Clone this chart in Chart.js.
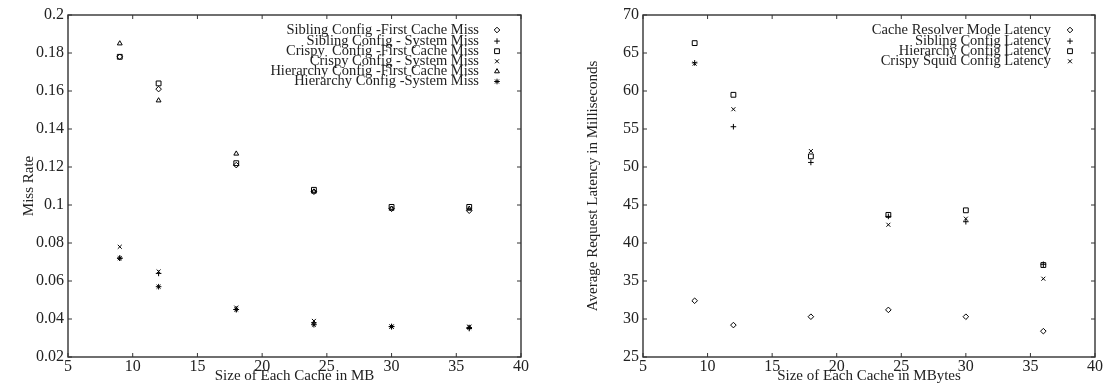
<!DOCTYPE html>
<html>
<head>
<meta charset="utf-8">
<script src="https://cdn.jsdelivr.net/npm/chart.js@4"></script>
<style>
	body { margin: 0; background: #fff; }
	#left { position: absolute; left: 0; top: 0; }
	#right { position: absolute; left: 560px; top: 0; }
</style>
</head>
<body>
<canvas id="left" width="552" height="387"></canvas>
<canvas id="right" width="545" height="387"></canvas>
<script>
// cache size in MB (x values, same for both plots)
const sizesMB = [9, 12, 18, 24, 30, 36];

// left plot: miss rate
const siblingFirstMiss = [0.178, 0.161, 0.121, 0.107, 0.098, 0.097];
const siblingSystemMiss = [0.072, 0.064, 0.045, 0.038, 0.036, 0.035];
const crispyFirstMiss = [0.178, 0.164, 0.122, 0.108, 0.099, 0.099];
const crispySystemMiss = [0.078, 0.065, 0.046, 0.039, 0.036, 0.036];
const hierarchyFirstMiss = [0.185, 0.155, 0.127, 0.107, 0.098, 0.098];
const hierarchySystemMiss = [0.072, 0.057, 0.045, 0.037, 0.036, 0.0355];

// right plot: latency in ms
const resolverLatency = [32.4, 29.2, 30.3, 31.2, 30.3, 28.4];
const siblingLatency = [63.7, 55.3, 50.6, 43.5, 42.8, 37.2];
const hierarchyLatency = [66.3, 59.5, 51.4, 43.7, 44.3, 37.1];
const crispyLatency = [63.6, 57.6, 52.1, 42.4, 43.2, 35.3];

// tick labels
const xTicks = [5, 10, 15, 20, 25, 30, 35, 40];
const missTicks = [0.02, 0.04, 0.06, 0.08, 0.1, 0.12, 0.14, 0.16, 0.18, 0.2];
const latencyTicks = [25, 30, 35, 40, 45, 50, 55, 60, 65, 70];

const FONT = "'Liberation Serif', 'DejaVu Serif', serif";
const INK = '#222';

function pts(ys) {
	return ys.map((y, i) => ({ x: sizesMB[i], y: y }));
}

function ds(label, ys, style, r) {
	return {
		label: label,
		data: pts(ys),
		pointStyle: style,
		pointRadius: r || 2.8,
		pointBorderWidth: 1,
		borderColor: '#000',
		backgroundColor: 'rgba(0,0,0,0)',
		showLine: false
	};
}

// box + inward ticks on all sides, gnuplot style
const framePlugin = {
	id: 'frame',
	afterDraw(chart) {
		const { ctx, chartArea: a, scales: { x, y } } = chart;
		ctx.save();
		ctx.strokeStyle = '#333';
		ctx.lineWidth = 1.4;
		ctx.strokeRect(a.left, a.top, a.right - a.left, a.bottom - a.top);
		ctx.lineWidth = 1;
		ctx.beginPath();
		x.ticks.forEach(t => {
			const px = x.getPixelForValue(t.value);
			ctx.moveTo(px, a.bottom); ctx.lineTo(px, a.bottom - 4);
			ctx.moveTo(px, a.top); ctx.lineTo(px, a.top + 4);
		});
		y.ticks.forEach(t => {
			const py = y.getPixelForValue(t.value);
			ctx.moveTo(a.left, py); ctx.lineTo(a.left + 4, py);
			ctx.moveTo(a.right, py); ctx.lineTo(a.right - 4, py);
		});
		ctx.stroke();
		ctx.restore();
	}
};

// legend: text right aligned, marker on its right
const keyPlugin = {
	id: 'key',
	afterDraw(chart, args, opts) {
		const { ctx, chartArea: a } = chart;
		ctx.save();
		ctx.font = '14.5px ' + FONT;
		ctx.textAlign = 'right';
		ctx.textBaseline = 'middle';
		chart.data.datasets.forEach((d, i) => {
			const yy = a.top + opts.top + i * opts.step + (i > 0 ? 1 : 0);
			ctx.fillStyle = INK;
			ctx.fillText(d.label, a.right - opts.textGap, yy);
			ctx.strokeStyle = '#000';
			ctx.fillStyle = 'rgba(0,0,0,0)';
			Chart.helpers.drawPoint(ctx, { pointStyle: d.pointStyle, radius: d.pointRadius, borderWidth: 1, rotation: 0 }, a.right - opts.markGap, yy);
		});
		ctx.restore();
	}
};

function makeChart(id, datasets, yTicks, yTitle, xTitle, yWidth, rightPad, yTitlePad, fmt, key) {
	new Chart(document.getElementById(id), {
		type: 'scatter',
		data: { datasets: datasets },
		plugins: [framePlugin, keyPlugin],
		options: {
			responsive: false,
			animation: false,
			layout: { padding: { left: 0, right: rightPad, top: 15, bottom: 0 } },
			plugins: {
				legend: { display: false },
				tooltip: { enabled: false },
				key: key
			},
			scales: {
				x: {
					min: 5, max: 40,
					afterBuildTicks: s => { s.ticks = xTicks.map(v => ({ value: v })); },
					afterFit: s => { s.height = 30; },
					grid: { display: false, drawTicks: false },
					border: { display: false },
					ticks: { padding: 2, color: INK, maxRotation: 0, font: { family: FONT, size: 16, lineHeight: 1 } },
					title: { display: true, text: xTitle, color: INK, padding: { top: 0, bottom: 3 }, font: { family: FONT, size: 15, lineHeight: 1 } }
				},
				y: {
					min: yTicks[0], max: yTicks[yTicks.length - 1],
					afterBuildTicks: s => { s.ticks = yTicks.map(v => ({ value: v })); },
					afterFit: s => { s.width = yWidth; },
					grid: { display: false, drawTicks: false },
					border: { display: false },
					ticks: { padding: 4, color: INK, callback: fmt, font: { family: FONT, size: 16, lineHeight: 1 } },
					title: { display: true, text: yTitle, color: INK, padding: { top: yTitlePad, bottom: 0 }, font: { family: FONT, size: 15, lineHeight: 1 } }
				}
			}
		}
	});
}

makeChart('left', [
	ds('Sibling Config -First Cache Miss', siblingFirstMiss, 'rectRot'),
	ds('Sibling Config - System Miss', siblingSystemMiss, 'cross'),
	ds('Crispy  Config -First Cache Miss', crispyFirstMiss, 'rect', 3.4),
	ds('Crispy Config - System Miss', crispySystemMiss, 'crossRot'),
	ds('Hierarchy Config -First Cache Miss', hierarchyFirstMiss, 'triangle'),
	ds('Hierarchy Config -System Miss', hierarchySystemMiss, 'star')
], missTicks, 'Miss Rate', 'Size of Each Cache in MB', 68, 31, 22,
	v => String(Number(v.toFixed(2))),
	{ top: 15, step: 10.1, textGap: 42, markGap: 24 });

makeChart('right', [
	ds('Cache Resolver Mode Latency', resolverLatency, 'rectRot'),
	ds('Sibling Config Latency', siblingLatency, 'cross'),
	ds('Hierarchy Config Latency', hierarchyLatency, 'rect', 3.4),
	ds('Crispy Squid Config Latency', crispyLatency, 'crossRot')
], latencyTicks, 'Average Request Latency in Milliseconds', 'Size of Each Cache in MBytes', 83, 8, 26,
	v => String(v),
	{ top: 15, step: 10.1, textGap: 44, markGap: 25 });
</script>
</body>
</html>
